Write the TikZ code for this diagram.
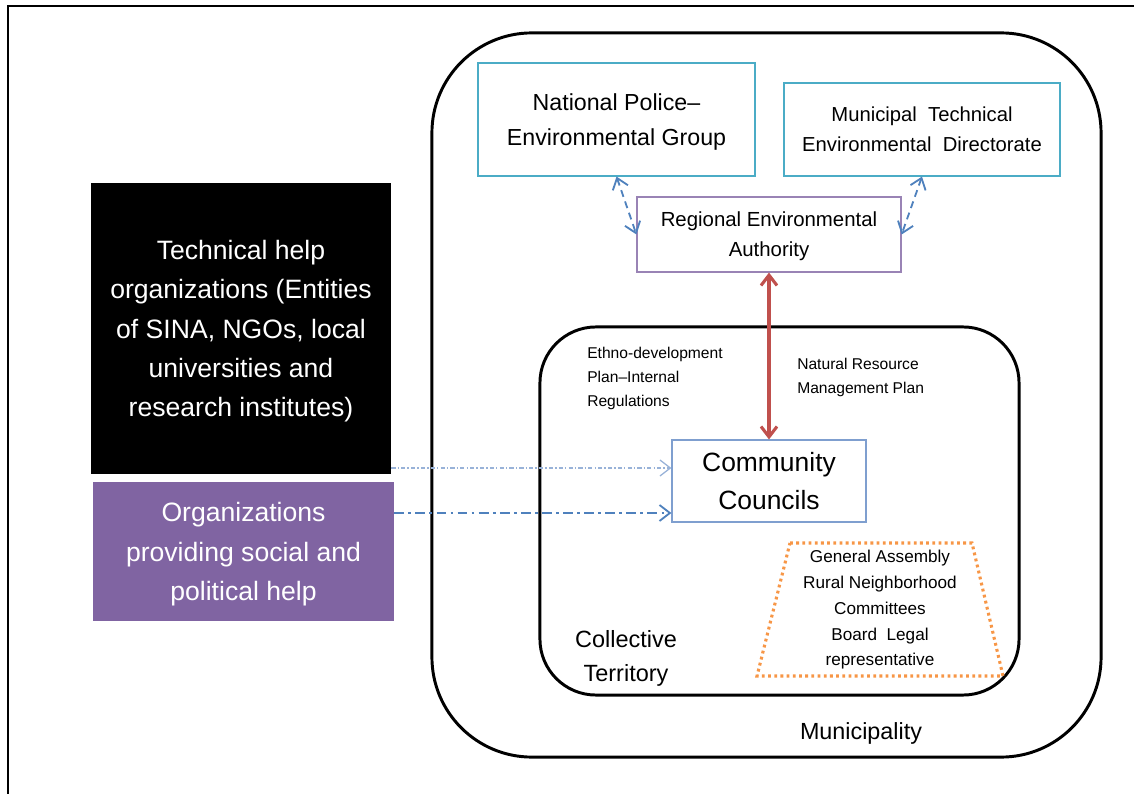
\documentclass[tikz,border=0pt]{standalone}
\usepackage{fontspec}
\setmainfont{Liberation Sans}
\usepackage{xcolor}
\usetikzlibrary{arrows.meta,positioning}

\definecolor{cyanline}{HTML}{4BACC6}
\definecolor{lilacline}{HTML}{9983B5}
\definecolor{paleblue}{HTML}{7F9FCF}
\definecolor{linkblue}{HTML}{4F81BD}
\definecolor{linkred}{HTML}{C0504D}
\definecolor{dotorange}{HTML}{F79646}
\definecolor{socialpurple}{HTML}{8064A2}

\begin{document}
\begin{tikzpicture}[x=0.025cm, y=-0.025cm,
  >={Straight Barb[length=2.6mm, width=4mm]},
  helpbox/.style={fill=black, text=white, align=center, inner sep=0pt, text depth=0pt,
    font=\fontsize{18.9}{28}\selectfont},
  agency/.style={draw=cyanline, fill=white, line width=0.8pt, align=center, inner sep=0pt, text depth=0pt},
  region/.style={rounded corners=2.5cm, draw, line width=2.1pt, inner sep=0pt},
  bluedash/.style={draw=linkblue, line width=1.3pt, dash pattern=on 5pt off 3.5pt},
  caption/.style={inner sep=0pt, align=left, font=\fontsize{11.1}{17}\selectfont}
]
  \useasboundingbox (0,0) rectangle (1134,794);
  % page frame, only top and left edges show
  \draw[line width=1.8pt] (8,794) -- (8,6) -- (1134,6);

  % nested areas
  \node[region, minimum width=16.725cm, minimum height=18.1cm] (municipality) at (766.5,395) {};
  \node[region, rounded corners=1.4cm, minimum width=11.975cm, minimum height=9.2cm] (territory) at (779.5,511) {};
  \node[inner sep=0pt, font=\fontsize{16.6}{24}\selectfont] (munlabel) at (861,733) {Municipality};
  \node[inner sep=0pt, align=center, text depth=0pt, font=\fontsize{16.7}{24.8}\selectfont] (terrlabel) at (626,656) {Collective\\Territory};

  % state agencies
  \node[agency, minimum width=6.925cm, minimum height=2.825cm,
    font=\fontsize{16.5}{24.8}\selectfont] (police) at (616.5,119.5) {National Police--\\Environmental Group};
  \node[agency, minimum width=6.9cm, minimum height=2.325cm,
    font=\fontsize{14.4}{21.3}\selectfont] (directorate) at (922,129.5) {Municipal\ \ Technical\\Environmental\ \ Directorate};
  \node[agency, draw=lilacline, minimum width=6.6cm, minimum height=1.875cm,
    font=\fontsize{14.5}{21.3}\selectfont] (authority) at (769,234.5) {Regional Environmental\\Authority};
  \node[agency, draw=paleblue, minimum width=4.85cm, minimum height=2.05cm,
    font=\fontsize{18.8}{27.6}\selectfont] (councils) at (769,481) {Community\\Councils};

  % outside support
  \node[helpbox, minimum width=7.5cm, minimum height=7.275cm] (techhelp) at (241,328.5)
    {Technical help\\organizations (Entities\\of SINA, NGOs, local\\universities and\\research institutes)};
  \node[helpbox, fill=socialpurple, minimum width=7.525cm, minimum height=3.475cm] (socialhelp) at (243.5,551.5)
    {Organizations\\providing social and\\political help};

  % plans
  \node[caption, anchor=north west] (ethnoplan) at (587,347) {Ethno-development\\Plan--Internal\\Regulations};
  \node[caption, anchor=north west] (resplan) at (797,358) {Natural Resource\\Management Plan};

  % internal bodies
  \draw[dotorange, line width=2.2pt, dash pattern=on 2pt off 2.4pt] (790,543) -- (972,543) -- (1003,676) -- (757,676) -- cycle;
  \node[inner sep=0pt, align=center, text depth=0pt, font=\fontsize{12.2}{18.4}\selectfont] (bodies) at (880,608)
    {General Assembly\\Rural Neighborhood\\Committees\\Board\ \ Legal\\representative};

  % links
  \draw[bluedash, <->] (police.south) -- (authority.west);
  \draw[bluedash, <->] (directorate.south) -- (authority.east);
  \draw[linkred, line width=2.2pt, <->] (authority.south) -- (councils.north);
  \draw[paleblue!80, line width=0.9pt, dash pattern=on 3pt off 1.5pt on 1pt off 1.5pt, ->]
    (techhelp.east |- 0,468) -- (councils.west |- 0,468);
  \draw[linkblue, line width=1.3pt, dash pattern=on 7pt off 3pt on 2pt off 3pt, ->]
    (socialhelp.east |- 0,513) -- (councils.west |- 0,513);
\end{tikzpicture}
\end{document}
